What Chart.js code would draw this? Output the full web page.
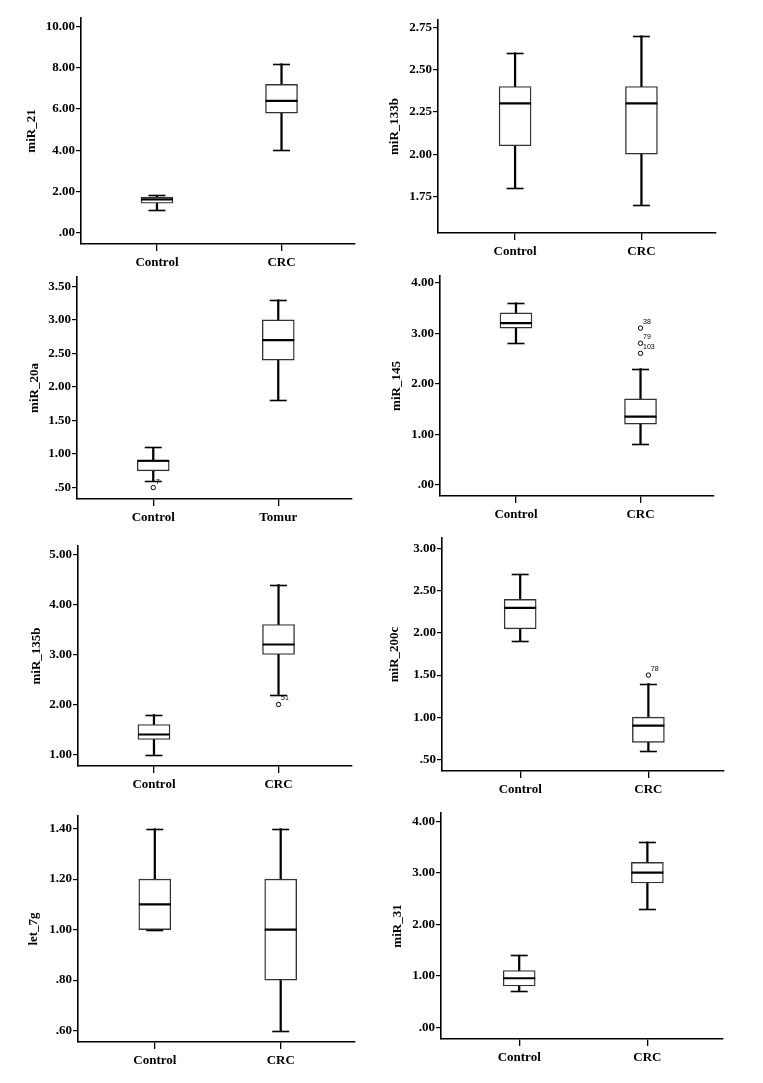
<!DOCTYPE html>
<html>
<head>
<meta charset="utf-8">
<script src="https://cdn.jsdelivr.net/npm/chart.js@4.4.1/dist/chart.umd.min.js"></script>
<style>
  html, body { margin: 0; padding: 0; background: #fff; }
  #page { position: relative; width: 763px; height: 1083px; overflow: hidden; }
  canvas { position: absolute; }
</style>
</head>
<body>
<div id="page"></div>
<script>
// Werte (je Panel: [Control, zweite Gruppe])
const panelTitles = ["miR_21", "miR_133b", "miR_20a", "miR_145", "miR_135b", "miR_200c", "let_7g", "miR_31"];
const categories = [
  ["Control", "CRC"], ["Control", "CRC"], ["Control", "Tomur"], ["Control", "CRC"],
  ["Control", "CRC"], ["Control", "CRC"], ["Control", "CRC"], ["Control", "CRC"]
];
const whiskerLow  = [[1.1, 4.0], [1.8, 1.7], [0.6, 1.8], [2.8, 0.8], [1.0, 2.2], [1.9, 0.6], [1.0, 0.6], [0.7, 2.3]];
const q1          = [[1.43, 5.8], [2.05, 2.0], [0.75, 2.4], [3.1, 1.2], [1.3, 3.0], [2.05, 0.7], [1.0, 0.8], [0.8, 2.8]];
const median      = [[1.62, 6.4], [2.3, 2.3], [0.9, 2.7], [3.2, 1.35], [1.4, 3.2], [2.3, 0.9], [1.1, 1.0], [0.95, 3.0]];
const q3          = [[1.73, 7.2], [2.4, 2.4], [0.9, 3.0], [3.4, 1.7], [1.6, 3.6], [2.4, 1.0], [1.2, 1.2], [1.1, 3.2]];
const whiskerHigh = [[1.81, 8.2], [2.6, 2.7], [1.1, 3.3], [3.6, 2.3], [1.8, 4.4], [2.7, 1.4], [1.4, 1.4], [1.4, 3.6]];
// Ausreisser: [Gruppe, Wert, Fallnummer]
const outliers = [
  [], [], [[0, 0.5, "7"]], [[1, 3.1, "38"], [1, 2.8, "79"], [1, 2.6, "103"]],
  [[1, 2.0, "51"]], [[1, 1.5, "78"]], [], []
];
// Achsen
const yTicks = [
  [0, 2, 4, 6, 8, 10], [1.75, 2.0, 2.25, 2.5, 2.75], [0.5, 1, 1.5, 2, 2.5, 3, 3.5], [0, 1, 2, 3, 4],
  [1, 2, 3, 4, 5], [0.5, 1, 1.5, 2, 2.5, 3], [0.6, 0.8, 1.0, 1.2, 1.4], [0, 1, 2, 3, 4]
];
const yMin = [-0.55, 1.534, 0.33, -0.22, 0.77, 0.36, 0.555, -0.23];
const yMax = [10.42, 2.793, 3.64, 4.13, 5.17, 3.13, 1.45, 4.16];

// Layout je Panel (Seitenkoordinaten der Achsen): links, oben, rechts, unten, Titel-x
const frames = [
  [81, 18, 355, 244, 31.7], [438, 20, 716, 233, 15],
  [77, 277, 352, 499, 35], [440, 276, 714, 496, 16.7],
  [78, 546, 352, 766, 36.7], [442, 538, 724, 771, 15],
  [78, 816, 355, 1042, 33.3], [441, 813, 723, 1039, 17.3]
];

const FONT = { family: "'Liberation Serif', 'Times New Roman', serif", size: 13, weight: "bold" };

function fmt(v) {
  // SPSS-Stil: ".50" statt "0.50"
  const s = Number(v).toFixed(2);
  return s.startsWith("0.") ? s.slice(1) : s;
}

const page = document.getElementById("page");

panelTitles.forEach((title, p) => {
  const [L, T, R, B, titleX] = frames[p];
  const col = p % 2;
  const cLeft = col ? 380 : 0;
  const cWidth = col ? 383 : 380;
  const cTop = T - 16;
  const cHeight = B + 34 - cTop;

  const canvas = document.createElement("canvas");
  canvas.width = cWidth;
  canvas.height = cHeight;
  canvas.style.left = cLeft + "px";
  canvas.style.top = cTop + "px";
  page.appendChild(canvas);

  const groups = [0, 1];

  // Whisker-Enden und Median
  const boxExtras = {
    id: "boxExtras",
    afterDatasetsDraw(chart) {
      const { ctx, scales: { x, y } } = chart;
      ctx.save();
      ctx.strokeStyle = "#000";
      groups.forEach((g) => {
        const cx = x.getPixelForValue(g);
        // Caps
        ctx.lineWidth = 1.6;
        [whiskerLow[p][g], whiskerHigh[p][g]].forEach((v) => {
          const py = Math.round(y.getPixelForValue(v)) + 0.5;
          ctx.beginPath();
          ctx.moveTo(cx - 8.5, py);
          ctx.lineTo(cx + 8.5, py);
          ctx.stroke();
        });
        // Median
        ctx.lineWidth = 2.2;
        const my = y.getPixelForValue(median[p][g]);
        ctx.beginPath();
        ctx.moveTo(cx - 16, my);
        ctx.lineTo(cx + 16, my);
        ctx.stroke();
      });
      // Fallnummern der Ausreisser
      ctx.fillStyle = "#000";
      ctx.font = "7px 'Liberation Sans', Arial, sans-serif";
      ctx.textAlign = "left";
      ctx.textBaseline = "middle";
      outliers[p].forEach(([g, v, label]) => {
        ctx.fillText(label, x.getPixelForValue(g) + 2.5, y.getPixelForValue(v) - 6);
      });
      ctx.restore();
    }
  };

  new Chart(canvas, {
    type: "bar",
    data: {
      datasets: [
        {
          // Boxen (Q1 bis Q3)
          data: groups.map((g) => ({ x: g, y: [q1[p][g], q3[p][g]] })),
          backgroundColor: "#fff",
          borderColor: "#333",
          borderWidth: 1.4,
          borderSkipped: false,
          barThickness: 32,
          grouped: false,
          order: 1
        },
        {
          // Whisker-Linien
          data: groups.map((g) => ({ x: g, y: [whiskerLow[p][g], whiskerHigh[p][g]] })),
          backgroundColor: "#000",
          borderWidth: 0,
          barThickness: 1.6,
          grouped: false,
          order: 2
        },
        {
          type: "scatter",
          data: outliers[p].map(([g, v]) => ({ x: g, y: v })),
          pointRadius: 2.2,
          pointBorderWidth: 1,
          pointBackgroundColor: "#fff",
          pointBorderColor: "#000",
          order: 0
        }
      ]
    },
    options: {
      responsive: false,
      animation: false,
      devicePixelRatio: 1,
      layout: { padding: { left: 0, top: 16, right: cLeft + cWidth - R, bottom: 0 } },
      plugins: { legend: { display: false }, tooltip: { enabled: false } },
      scales: {
        x: {
          type: "linear",
          min: -0.61,
          max: 1.59,
          offset: false,
          afterFit: (s) => { s.height = cTop + cHeight - B; },
          afterBuildTicks: (s) => { s.ticks = groups.map((g) => ({ value: g })); },
          grid: { display: true, offset: false, drawOnChartArea: false, drawTicks: true, tickLength: 7, color: "#000", lineWidth: 1.3 },
          border: { display: true, color: "#000", width: 1.6 },
          ticks: { color: "#000", font: FONT, padding: 4, maxRotation: 0, callback: (v) => categories[p][v] }
        },
        y: {
          type: "linear",
          min: yMin[p],
          max: yMax[p],
          afterFit: (s) => { s.width = L - cLeft; },
          afterBuildTicks: (s) => { s.ticks = yTicks[p].map((v) => ({ value: v })); },
          grid: { display: true, drawOnChartArea: false, drawTicks: true, tickLength: 5, color: "#000", lineWidth: 1.2 },
          border: { display: true, color: "#000", width: 1.6 },
          ticks: { color: "#000", font: FONT, padding: 1, callback: (v) => fmt(v) },
          title: { display: true, text: title, color: "#000", font: FONT, padding: { top: titleX - 7.8, bottom: 0 } }
        }
      }
    },
    plugins: [boxExtras]
  });
});
</script>
</body>
</html>
